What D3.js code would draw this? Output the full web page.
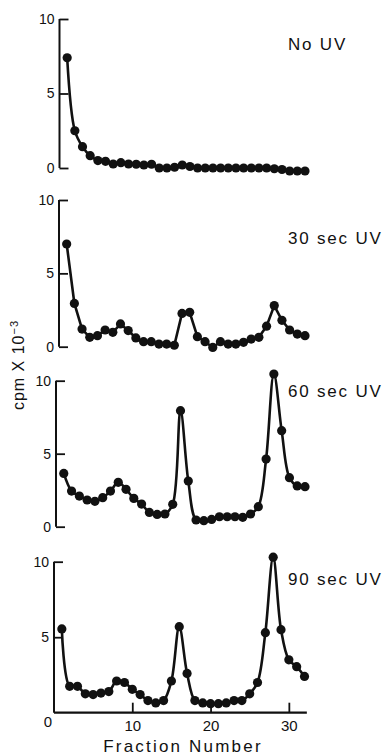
<html>
<head>
<script src="https://d3js.org/d3.v7.min.js"></script>
<style>
body { margin: 0; background: #fff; }
</style>
</head>
<body>
<script>
// fraction numbers on the x axis
var fractions = [1,2,3,4,5,6,7,8,9,10,11,12,13,14,15,16,17,18,19,20,21,22,23,24,25,26,27,28,29,30,31,32];

// cpm x 10^-3
var noUV = [7.4,2.5,1.43,0.83,0.5,0.45,0.27,0.36,0.27,0.25,0.2,0.25,0.0,0.0,0.05,0.2,0.1,0.0,0.0,0.0,0.0,0.0,0.0,0.0,0.0,0.0,0.0,-0.05,-0.1,-0.2,-0.2,-0.2];
var uv30 = [7.0,2.95,1.2,0.64,0.75,1.14,0.98,1.55,1.1,0.6,0.34,0.34,0.18,0.18,0.1,2.27,2.34,0.68,0.34,-0.05,0.34,0.18,0.18,0.3,0.52,0.64,1.4,2.8,1.8,1.14,0.86,0.75];
var uv60 = [3.65,2.44,2.1,1.83,1.74,1.99,2.44,3.04,2.56,1.94,1.55,0.98,0.84,0.87,1.53,7.95,3.13,0.46,0.41,0.5,0.68,0.68,0.68,0.64,0.87,1.37,4.63,10.46,6.58,3.36,2.79,2.74];
var uv90 = [5.55,1.75,1.75,1.25,1.2,1.3,1.4,2.1,2.0,1.55,1.2,0.8,0.65,0.8,2.1,5.7,2.6,0.8,0.65,0.6,0.6,0.65,0.8,0.8,1.25,2.0,5.3,10.3,5.5,3.5,3.05,2.4];

var panelLabels = ["No UV", "30 sec UV", "60 sec UV", "90 sec UV"];
var yTicks = [0, 5, 10];
var xTicks = [10, 20, 30];

var w = 385, h = 756;
var ink = "#111";
var fontFamily = "Liberation Sans, Arial, sans-serif";

// panel placement (the scan is slightly skewed, so each panel has its own)
var panels = [
  {data: noUV, left: 59.5, right: 305, bottom: 168, top: 19, labelY: 50, curve: d3.curveCatmullRom},
  {data: uv30, left: 59, right: 305, bottom: 346.7, top: 200, labelY: 244, curve: d3.curveLinear},
  {data: uv60, left: 56, right: 305, bottom: 526.7, top: 380.7, labelY: 397, curve: d3.curveCatmullRom},
  {data: uv90, left: 54, right: 304.5, bottom: 712.7, top: 561.7, labelY: 585, curve: d3.curveCatmullRom}
];

var svg = d3.select("body").append("svg")
  .attr("width", w)
  .attr("height", h);

panels.forEach(function(p, i) {
  var x = d3.scaleLinear().domain([0, 32]).range([p.left, p.right]);
  var y = d3.scaleLinear().domain([0, 10]).range([p.bottom, p.top]);
  var g = svg.append("g");

  var trace = d3.line()
    .x(function(d, k) { return x(fractions[k]); })
    .y(function(d) { return y(d); })
    .curve(p.curve);

  g.append("path")
    .datum(p.data)
    .attr("d", trace)
    .attr("fill", "none")
    .attr("stroke", ink)
    .attr("stroke-width", 2.6);

  g.selectAll("circle")
    .data(p.data)
    .enter()
    .append("circle")
    .attr("cx", function(d, k) { return x(fractions[k]); })
    .attr("cy", function(d) { return y(d); })
    .attr("r", 4.6)
    .attr("fill", ink);

  // y axis, ticks pointing inward
  var ya = g.append("g")
    .attr("transform", "translate(" + x(0) + ",0)")
    .call(d3.axisLeft(y).tickValues(i == 3 ? [5, 10] : yTicks).tickSize(-9).tickPadding(5));
  ya.select(".domain").attr("d", "M0," + y(0) + "V" + y(10))
    .attr("stroke", ink).attr("stroke-width", 2);
  ya.selectAll("line").attr("stroke", ink).attr("stroke-width", 1.8);
  ya.selectAll("text").attr("fill", ink)
    .style("font-family", fontFamily).style("font-size", "14px");

  // x axis only on the bottom panel
  if (i == 3) {
    var xa = g.append("g")
      .attr("transform", "translate(0," + y(0) + ")")
      .call(d3.axisBottom(x).tickValues(xTicks).tickSize(-10).tickPadding(8));
    xa.select(".domain").attr("d", "M" + x(0) + ",0H" + x(32.3))
      .attr("stroke", ink).attr("stroke-width", 2.2);
    xa.selectAll("line").attr("stroke", ink).attr("stroke-width", 1.8);
    xa.selectAll("text").attr("fill", ink)
      .style("font-family", fontFamily).style("font-size", "15px");
    g.append("text")
      .attr("x", x(0) - 6).attr("y", y(0) + 14)
      .attr("text-anchor", "middle")
      .attr("fill", ink)
      .style("font-family", fontFamily).style("font-size", "15px")
      .text("0");
  }

  g.append("text")
    .attr("x", 288).attr("y", p.labelY)
    .attr("fill", ink)
    .style("font-family", fontFamily)
    .style("font-size", "17px")
    .style("letter-spacing", "1.8px")
    .text(panelLabels[i]);
});

// axis titles
svg.append("text")
  .attr("transform", "translate(24,365) rotate(-90)")
  .attr("text-anchor", "middle")
  .attr("fill", ink)
  .style("font-family", fontFamily)
  .style("font-size", "16px")
  .style("letter-spacing", "1px")
  .text("cpm X 10")
  .append("tspan")
  .attr("baseline-shift", "super")
  .style("font-size", "11px")
  .text("\u22123");

svg.append("text")
  .attr("x", 183).attr("y", 752)
  .attr("text-anchor", "middle")
  .attr("fill", ink)
  .style("font-family", fontFamily)
  .style("font-size", "17px")
  .style("letter-spacing", "2.2px")
  .text("Fraction Number");
</script>
</body>
</html>
